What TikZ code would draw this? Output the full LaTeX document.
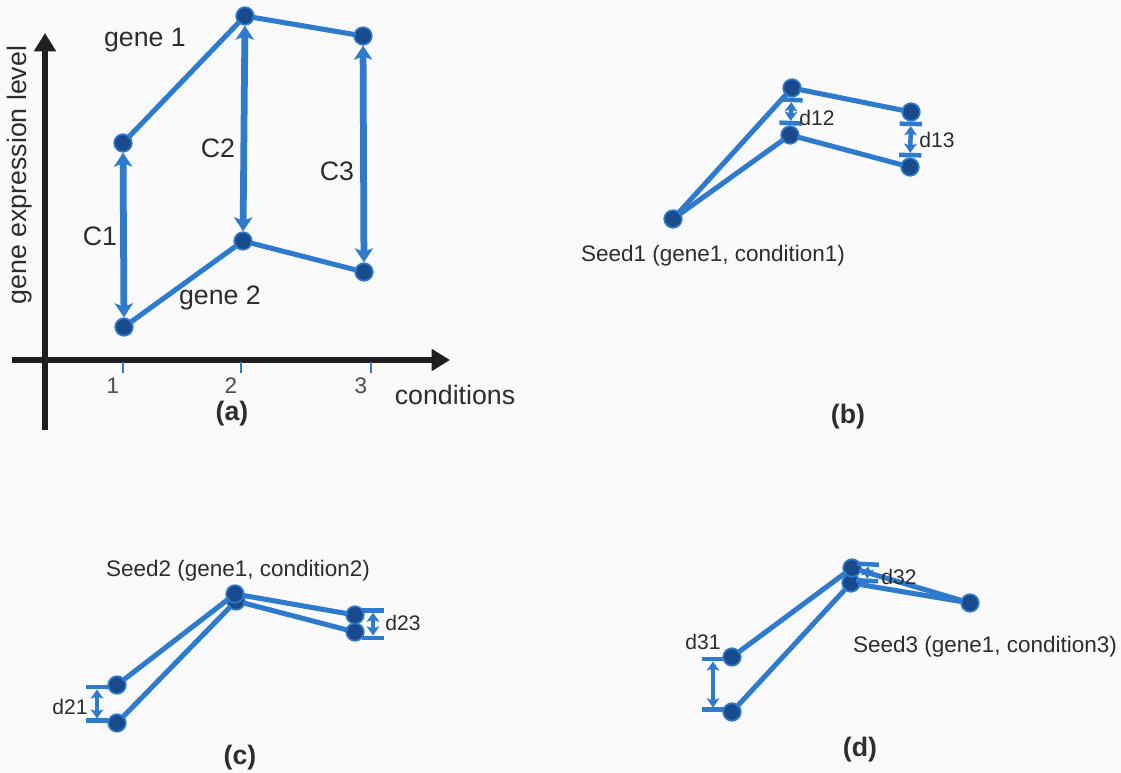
\documentclass[tikz,border=0pt]{standalone}
\usepackage{fontspec}
\setmainfont{Liberation Sans}
\usetikzlibrary{arrows.meta,positioning}
\definecolor{geneline}{RGB}{46,122,204}
\definecolor{genedot}{RGB}{24,74,140}
\definecolor{txtgray}{RGB}{45,45,45}
\definecolor{bgpaper}{RGB}{250,250,253}

\begin{document}
\begin{tikzpicture}[
    x=0.025cm, y=-0.025cm,
    dot/.style={circle, fill=genedot, draw=geneline, line width=1.2pt, inner sep=0pt, minimum size=0.44cm},
    profile/.style={draw=geneline, line width=3.6pt, line cap=round},
    spread/.style={<->, >={Stealth[length=10pt,width=13pt,inset=2.5pt]}, draw=geneline, line width=4.8pt},
    gap/.style={|<->|, >={Stealth[length=6.5pt,width=9pt,inset=1.5pt]}, draw=geneline, line width=3.2pt},
    axis/.style={-{Triangle[length=13pt,width=15pt]}, draw=black!88, line width=4pt},
    tick/.style={draw=geneline, line width=1.5pt},
    lbl/.style={font=\fontsize{19}{22}\selectfont, text=txtgray, inner sep=1pt},
    ticklbl/.style={font=\fontsize{16}{19}\selectfont, text=black!70, inner sep=1pt},
    seed/.style={font=\fontsize{16}{19}\selectfont, text=txtgray, inner sep=1pt},
    dlbl/.style={font=\fontsize{15}{18}\selectfont, text=txtgray, inner sep=1pt},
    panel/.style={font=\fontsize{19}{22}\selectfont\bfseries, text=txtgray, inner sep=1pt},
]
\useasboundingbox[fill=bgpaper] (0,0) rectangle (1121,773);

% === (a) AXES ===
\coordinate (origin_y) at (45,430);
\coordinate (top_y) at (45,33);
\coordinate (origin_x) at (12,360);
\coordinate (end_x) at (450,360);
\draw[axis] (origin_y) -- (top_y);
\draw[axis] (origin_x) -- (end_x);
\foreach \x/\n in {123/1, 241/2, 371/3} {
  \draw[tick] (\x,362) -- (\x,373);
  \node[ticklbl] (tick\n) at (\x-10,386) {\n};
}
\node[lbl] (xlabel) at (455,395) {conditions};
\node[lbl, rotate=90] (ylabel) at (20,175) {gene expression level};

% === (a) GENES ===
\node[dot] (a11) at (123,143) {};
\node[dot] (a12) at (245,16) {};
\node[dot] (a13) at (363,36) {};
\node[dot] (a21) at (124,327) {};
\node[dot] (a22) at (243,241) {};
\node[dot] (a23) at (364,272) {};
\draw[profile] (a11) -- (a12) -- (a13);
\draw[profile] (a21) -- (a22) -- (a23);
\draw[spread] (a21) -- (a11);
\draw[spread] (a22) -- (a12);
\draw[spread] (a23) -- (a13);
\node[lbl] (gene1) at (145,40) {gene 1};
\node[lbl] (gene2) at (220,298) {gene 2};
\node[lbl] (c1) at (100,236) {C1};
\node[lbl] (c2) at (218,148) {C2};
\node[lbl] (c3) at (337,171) {C3};
\node[panel] (pa) at (232,414) {(a)};

% === (b) SEED 1 ===
\node[dot] (s1) at (673,219) {};
\node[dot] (b2u) at (792,88) {};
\node[dot] (b2l) at (790,135) {};
\node[dot] (b3u) at (911,112) {};
\node[dot] (b3l) at (910,167) {};
\draw[profile] (s1) -- (b2u) -- (b3u);
\draw[profile] (s1) -- (b2l) -- (b3l);
\draw[gap] (b2u) -- (b2l);
\draw[gap] (b3u) -- (b3l);
\node[dlbl] (d12) at (817,118) {d12};
\node[dlbl] (d13) at (937,140) {d13};
\node[seed] (seed1) at (713,256) {Seed1 (gene1, condition1)};
\node[panel] (pb) at (848,417) {(b)};

% === (c) SEED 2 ===
\node[dot] (s2l) at (236,601) {};
\node[dot] (s2) at (235,594) {};
\node[dot] (c1u) at (117,685) {};
\node[dot] (c1l) at (117,723) {};
\node[dot] (c3l) at (355,632) {};
\node[dot] (c3u) at (355,615) {};
\draw[profile] (s2) -- (c1u);
\draw[profile] (s2l) -- (c1l);
\draw[profile] (s2) -- (c3u);
\draw[profile] (s2l) -- (c3l);
\draw[gap] ([xshift=-0.5cm]c1u.center) -- ([xshift=-0.5cm]c1l.center);
\draw[gap] ([xshift=0.45cm,yshift=0.17cm]c3u.center) -- ([xshift=0.45cm,yshift=-0.2cm]c3l.center);
\node[dlbl] (d21) at (70,707) {d21};
\node[dlbl] (d23) at (403,623) {d23};
\node[seed] (seed2) at (238,571) {Seed2 (gene1, condition2)};
\node[panel] (pc) at (240,758) {(c)};

% === (d) SEED 3 ===
\node[dot] (s3) at (970,603) {};
\node[dot] (d2l) at (851,583) {};
\node[dot] (d2u) at (852,568) {};
\node[dot] (d1u) at (732,657) {};
\node[dot] (d1l) at (732,712) {};
\draw[profile] (d1u) -- (d2u) -- (s3);
\draw[profile] (d1l) -- (d2l) -- (s3);
\draw[gap] ([xshift=-0.475cm]d1u.center) -- ([xshift=-0.475cm]d1l.center);
\draw[gap] ([xshift=0.4cm,yshift=0.15cm]d2u.center) -- ([xshift=0.4cm]d2l.center);
\node[dlbl] (d31) at (703,642) {d31};
\node[dlbl] (d32) at (899,577) {d32};
\node[seed] (seed3) at (985,647) {Seed3 (gene1, condition3)};
\node[panel] (pd) at (860,750) {(d)};

\end{tikzpicture}
\end{document}
